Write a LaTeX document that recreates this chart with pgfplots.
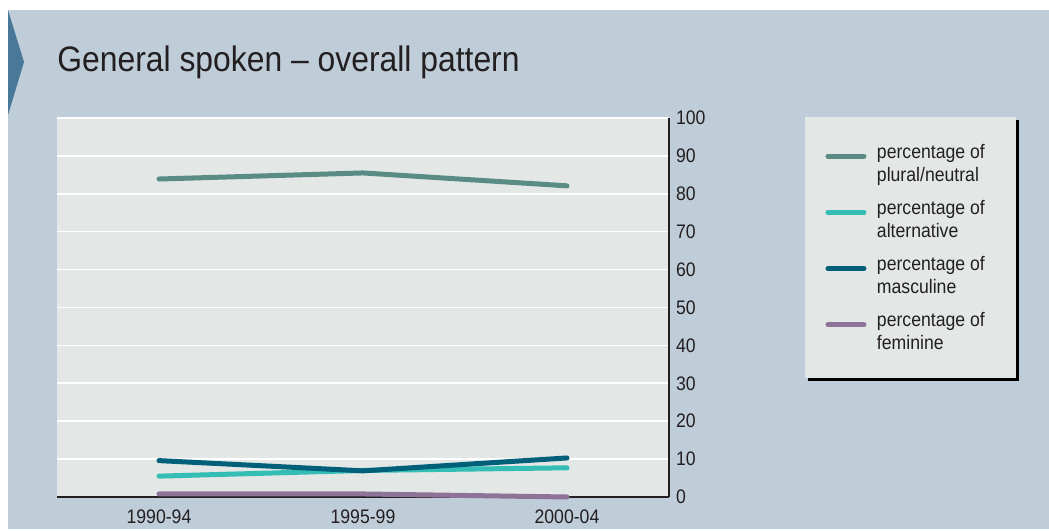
\documentclass[border=0pt]{standalone}
\usepackage{fontspec}
\setmainfont{Liberation Sans}[FakeStretch=0.9]
\usepackage{pgfplots}
\pgfplotsset{compat=1.18}

\definecolor{pagebg}{HTML}{BFCDD9}
\definecolor{plotbg}{HTML}{E3E7E6}
\definecolor{tri}{HTML}{4A7898}
\definecolor{txt}{HTML}{231F20}
\definecolor{plural}{HTML}{5A8C85}
\definecolor{altern}{HTML}{33BDB5}
\definecolor{mascul}{HTML}{00607A}
\definecolor{femin}{HTML}{8E7399}

\begin{document}
\begin{tikzpicture}[x=0.5pt,y=0.5pt]
% page background, 1 unit = 1 px of the reference
\fill[white] (0,0) rectangle (1049,529);
\fill[pagebg] (8,0) rectangle (1049,519);
\fill[tri] (8,519) -- (24,467) -- (8,414) -- cycle;
\node[anchor=base west, inner sep=0pt, text=txt, font=\fontsize{17.7}{20}\selectfont]
  at (57,457) {General spoken – overall pattern};
% legend box with shadow
\fill[black] (808,148) rectangle (1019,409);
\fill[plotbg] (805,151) rectangle (1016,412);

\begin{axis}[
  at={(28.5pt,16pt)}, anchor=south west,
  scale only axis, width=306pt, height=189.5pt,
  xmin=-0.5, xmax=2.5, ymin=0, ymax=100,
  axis x line*=bottom, axis y line*=right,
  axis background/.style={fill=plotbg},
  axis line style={txt, line width=0.6pt},
  xtick={0,1,2}, xticklabels={1990-94,1995-99,2000-04},
  xtick style={draw=none},
  extra x ticks={-0.5,0.5,1.5}, extra x tick labels={},
  extra x tick style={tick align=outside, major tick length=5pt,
    grid=none, tick style={txt, line width=0.6pt}},
  ytick={0,10,...,100}, ytick style={draw=none},
  ymajorgrids, grid style={white, line width=0.8pt},
  /pgf/number format/assume math mode=true,
  ticklabel style={font=\fontsize{9.8}{11}\selectfont, text=txt},
  xticklabel style={yshift=-3pt},
  clip=false,
  legend cell align=left,
  legend style={at={(axis description cs:1.255,0.932)}, anchor=north west,
    draw=none, fill=none, inner sep=0pt, row sep=8pt,
    nodes={align=left, inner ysep=0pt, text=txt,
      font=\fontsize{9.8}{11.5}\selectfont}},
  legend image code/.code={\draw[#1, line width=2.5pt, line cap=round]
    (1.25pt,4pt) -- (19.25pt,4pt); \path (22.5pt,4pt);},
  every axis plot/.append style={line width=2.5pt, line cap=round, line join=round},
]
\addplot[plural] coordinates {(0,83.9) (1,85.5) (2,82.1)};
\addlegendentry{percentage of\\plural/neutral}
\addplot[altern] coordinates {(0,5.5) (1,7.0) (2,7.7)};
\addlegendentry{percentage of\\alternative}
\addplot[mascul] coordinates {(0,9.6) (1,6.9) (2,10.3)};
\addlegendentry{percentage of\\masculine}
\addplot[femin] coordinates {(0,0.8) (1,0.8) (2,0.0)};
\addlegendentry{percentage of\\feminine}
\end{axis}
\end{tikzpicture}
\end{document}
